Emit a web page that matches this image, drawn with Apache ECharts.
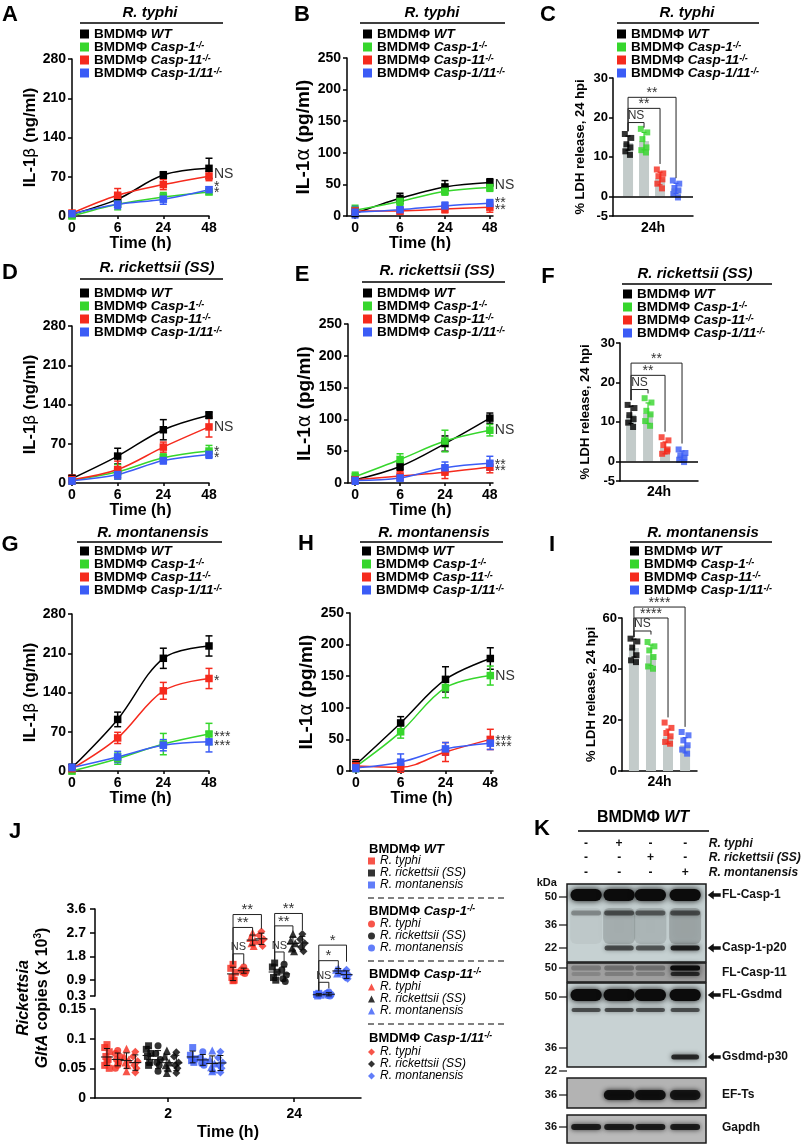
<!DOCTYPE html>
<html><head><meta charset="utf-8">
<script src="https://cdn.jsdelivr.net/npm/echarts@6/dist/echarts.min.js"></script>
<style>html,body{margin:0;padding:0;background:#fff}#chart{width:810px;height:1145px}</style>
</head><body><div id="chart"></div>
<script>
// ---------------- DATA ----------------
const GENOTYPES = ['WT', 'Casp-1', 'Casp-11', 'Casp-1/11'];
const TIME_LABELS = ['0', '6', '24', '48'];

// IL-1β / IL-1α time courses (rows: WT, Casp-1, Casp-11, Casp-1/11; cols: 0,6,24,48 h)
const A_mean = [[3, 30, 73, 85], [0, 21, 34, 43], [5, 37, 56, 71], [4, 21, 30, 47]];
const A_sd = [[3, 5, 6, 18], [4, 10, 8, 5], [5, 12, 9, 8], [4, 8, 9, 5]];
const A_sig = [[75, 'NS'], [52, '*'], [40, '*']];

const B_mean = [[4, 28, 46, 53], [9, 23, 39, 45], [8, 8, 11, 14], [6, 10, 16, 20]];
const B_sd = [[3, 8, 10, 6], [8, 6, 6, 6], [6, 5, 6, 8], [9, 4, 6, 6]];
const B_sig = [[49, 'NS'], [20, '**'], [10, '**']];

const D_mean = [[8, 48, 95, 121], [5, 20, 45, 57], [6, 24, 64, 100], [4, 15, 40, 51]];
const D_sd = [[6, 14, 18, 6], [7, 13, 7, 10], [8, 15, 9, 18], [6, 8, 6, 7]];
const D_sig = [[100, 'NS'], [55, '*'], [44, '*']];

const E_mean = [[5, 26, 62, 102], [10, 37, 66, 83], [5, 11, 17, 25], [4, 8, 24, 31]];
const E_sd = [[5, 6, 12, 8], [7, 9, 17, 9], [6, 7, 10, 9], [6, 5, 9, 11]];
const E_sig = [[83, 'NS'], [28, '**'], [19, '**']];

const G_mean = [[6, 92, 201, 223], [0, 22, 48, 66], [4, 59, 143, 165], [6, 25, 46, 52]];
const G_sd = [[6, 13, 18, 18], [5, 10, 19, 19], [5, 10, 15, 18], [6, 10, 10, 18]];
const G_sig = [[161, '*'], [60, '***'], [45, '***']];

const H_mean = [[10, 76, 145, 178], [7, 62, 132, 151], [8, 6, 30, 50], [5, 14, 35, 44]];
const H_sd = [[8, 10, 20, 17], [8, 10, 16, 15], [8, 8, 15, 16], [6, 13, 10, 10]];
const H_sig = [[150, 'NS'], [47, '***'], [37, '***']];

// LDH release bars (means), SD, and individual points
const C_bars = [13.5, 14, 4.5, 2];
const C_sd = [1.8, 2.2, 1.6, 1.3];
const C_points = [[15.8, 14.8, 13.2, 12.4, 11.4, 10.5], [17.1, 16.2, 14.5, 12.4, 11.7, 11.1],
                  [6.8, 5.8, 5.1, 4.3, 3.2, 2.0], [4.0, 3.2, 2.1, 1.5, 0.6, -0.3]];
const C_brackets = [[0, 3, 25.1, 16.5, 4.6, '**'], [0, 2, 22.3, 16.5, 8.2, '**'], [0, 1, 18.7, 16.5, 17.4, 'NS']];

const F_bars = [11.8, 12.2, 3.4, 1.5];
const F_sd = [2.2, 2.6, 1.5, 1.1];
const F_points = [[14.3, 13.5, 11.7, 10.7, 9.8, 8.7], [16.0, 14.9, 12.8, 11.9, 10.2, 9.0],
                  [6.1, 5.3, 4.1, 3.0, 1.9, 2.5], [3.0, 2.1, 1.5, 0.9, 0.4, -0.2]];
const F_brackets = [[0, 3, 24.9, 15.5, 4.5, '**'], [0, 2, 21.8, 15.5, 7.5, '**'], [0, 1, 18.2, 15.5, 17.2, 'NS']];

const I_bars = [48.2, 45.4, 13.6, 10.1];
const I_sd = [3.5, 4.0, 2.8, 3.0];
const I_points = [[51.9, 50.8, 48.4, 45.4, 43.4, 42.7], [50.6, 48.9, 47.3, 44.7, 41.0, 40.1],
                  [19.0, 16.9, 14.9, 13.6, 11.4, 10.7], [15.3, 14.0, 12.0, 10.1, 8.4, 6.8]];
const I_brackets = [[0, 3, 64.3, 52.5, 17.3, '****'], [0, 2, 60.0, 52.5, 21.0, '****'], [0, 1, 54.9, 52.5, 53.5, 'NS']];

// J: Rickettsia GltA copies (x10^3); [species][genotype] -> values
const J_SPECIES = ['R. typhi', 'R. rickettsii (SS)', 'R. montanensis'];
const J_TIME_LABELS = ['2', '24'];
const J_UPPER_TICKS = [0.3, 0.9, 1.8, 2.7, 3.6];
const J_2h_typhi = [[0.09, 0.085, 0.078, 0.07, 0.065, 0.06, 0.055, 0.05], [0.08, 0.075, 0.07, 0.065, 0.06, 0.055, 0.05],
                    [0.083, 0.07, 0.065, 0.06, 0.055, 0.045], [0.078, 0.07, 0.062, 0.055, 0.05, 0.043]];
const J_2h_rick = [[0.088, 0.082, 0.075, 0.07, 0.06, 0.055], [0.088, 0.075, 0.065, 0.06, 0.055, 0.045],
                   [0.08, 0.07, 0.06, 0.055, 0.05, 0.042], [0.077, 0.07, 0.06, 0.055, 0.05, 0.042]];
const J_2h_mont = [[0.085, 0.072, 0.066, 0.063, 0.06], [0.078, 0.068, 0.062, 0.058, 0.055],
                   [0.08, 0.065, 0.058, 0.052, 0.048, 0.045], [0.078, 0.068, 0.06, 0.055, 0.05, 0.043]];
const J_24h_typhi = [[1.5, 1.35, 1.2, 1.0, 0.9, 0.88], [1.4, 1.3, 1.25, 1.2, 1.15],
                     [2.7, 2.5, 2.4, 2.3, 2.2], [2.75, 2.6, 2.45, 2.35, 2.2]];
const J_24h_rick = [[1.55, 1.4, 1.2, 1.0, 0.9], [1.5, 1.3, 1.1, 0.95, 0.85],
                    [2.65, 2.4, 2.3, 2.1, 2.0], [2.65, 2.45, 2.3, 2.15, 2.0]];
const J_24h_mont = [[0.4, 0.36, 0.33, 0.3], [0.45, 0.4, 0.36, 0.32, 0.3],
                    [1.35, 1.3, 1.2, 1.15], [1.3, 1.2, 1.1, 1.0, 0.95]];
// brackets at 24 h: [species, genotypeFrom, genotypeTo, y, leftLegBottom, rightLegBottom, text]
const J_brackets = [
  [0, 0, 3, 3.39, 1.5, 2.85, '**'], [0, 0, 2, 2.9, 1.5, 2.6, '**'], [0, 0, 1, 1.9, 1.5, 1.5, 'NS'],
  [1, 0, 3, 3.43, 1.55, 2.8, '**'], [1, 0, 2, 2.96, 1.55, 2.7, '**'], [1, 0, 1, 1.97, 1.55, 1.55, 'NS'],
  [2, 0, 3, 2.23, 0.5, 1.6, '*'], [2, 0, 2, 1.64, 0.5, 1.35, '*'], [2, 0, 1, 0.82, 0.5, 0.59, 'NS']];

// K: western blot (lanes: uninfected, R. typhi, R. rickettsii, R. montanensis), band intensity 0..1
const K_INFECTION = [[0, 1, 0, 0], [0, 0, 1, 0], [0, 0, 0, 1]];
const K_FL_CASP1 = [1, 1, 1, 1];
const K_CASP1_MID = [0.3, 0.55, 0.5, 0.55];
const K_CASP1_SMEAR = [0.04, 0.16, 0.13, 0.2];
const K_CASP1_P20 = [0, 0.6, 0.55, 0.85];
const K_CASP11_A = [0.22, 0.28, 0.28, 1];
const K_CASP11_B = [0.15, 0.2, 0.2, 0.75];
const K_FL_GSDMD = [1, 1, 1, 1];
const K_GSDMD_MID = [0.6, 0.62, 0.6, 0.6];
const K_GSDMD_P30 = [0, 0, 0, 0.8];
const K_EFTS = [0, 0.95, 0.95, 0.9];
const K_GAPDH = [0.85, 0.85, 0.85, 0.85];
const K_MW = [50, 36, 22, 50, 50, 36, 22, 36, 36];

// ---------------- STYLE / LAYOUT ----------------
const FONT = '"Liberation Sans", Arial, Helvetica, sans-serif';
const GENO_COLORS = ['#000000', '#36d62c', '#f52a1d', '#3b5cf6'];
const J_SPECIES_COLORS = ['#f5291c', '#000000', '#3a5cf7'];
const J_SYMBOLS = ['rect', 'circle', 'triangle', 'diamond'];
const J_SYMBOL_SIZES = [7, 7, 8, 8];
const J_OFFSETS = [-0.485, -0.40, -0.33, -0.26, -0.155, -0.08, -0.01, 0.065, 0.195, 0.275, 0.35, 0.415];
const J_JITTER = [0, -0.018, 0.018, -0.009, 0.009, 0, -0.018, 0.018];
const BAR_JITTER = [-0.2, 0.2, -0.1, 0.15, -0.17, 0.12];

const option = {animation: false, backgroundColor: '#ffffff', textStyle: {fontFamily: FONT},
  grid: [], xAxis: [], yAxis: [], legend: [], series: [], graphic: []};

function addGrid(g) { option.grid.push(Object.assign({containLabel: false, show: false}, g)); return option.grid.length - 1; }
const AX_LINE = {show: true, onZero: false, lineStyle: {color: '#000', width: 1.5}};
function tick(vals, len) {
  const t = {show: true, inside: false, length: len || 4, lineStyle: {color: '#000', width: 1.5}};
  if (vals) t.customValues = vals;
  return t;
}
function lbl(extra) { return Object.assign({show: true, color: '#000', fontFamily: FONT, fontWeight: 'bold', fontSize: 14}, extra); }

const LEG_RICH = {
  b: {fontFamily: FONT, fontWeight: 'bold', fontSize: 13.5, color: '#000', lineHeight: 11.5},
  bi: {fontFamily: FONT, fontWeight: 'bold', fontStyle: 'italic', fontSize: 13.5, color: '#000', lineHeight: 11.5},
  sup: {fontFamily: FONT, fontWeight: 'bold', fontStyle: 'italic', fontSize: 9, color: '#000', lineHeight: 5, verticalAlign: 'top'}
};
function genoLabel(n) { return n === 'WT' ? '{b|BMDMΦ }{bi|WT}' : '{b|BMDMΦ }{bi|' + n + '}{sup|-/-}'; }
function addGenoLegend(left, top) {
  option.legend.push({left: left, top: top, orient: 'vertical', itemWidth: 9, itemHeight: 9, itemGap: -1, padding: 0,
    icon: 'rect', selectedMode: false, data: GENOTYPES, formatter: genoLabel, textStyle: {rich: LEG_RICH}});
}

function errorBarSeries(xi, yi, rows, color, capHalf, width, z) {
  return {type: 'custom', xAxisIndex: xi, yAxisIndex: yi, silent: true, clip: false, z: z || 2,
    itemStyle: {color: color}, data: rows,
    renderItem: function (params, api) {
      const x = api.value(0), m = api.value(1), s = api.value(2);
      const hi = api.coord([x, m + s]), lo = api.coord([x, m - s]);
      const st = {stroke: color, lineWidth: width};
      return {type: 'group', children: [
        {type: 'line', shape: {x1: hi[0], y1: hi[1], x2: lo[0], y2: lo[1]}, style: st},
        {type: 'line', shape: {x1: hi[0] - capHalf, y1: hi[1], x2: hi[0] + capHalf, y2: hi[1]}, style: st},
        {type: 'line', shape: {x1: lo[0] - capHalf, y1: lo[1], x2: lo[0] + capHalf, y2: lo[1]}, style: st}]};
    }};
}
function textSeries(xi, yi, items, z) {
  return {type: 'custom', xAxisIndex: xi, yAxisIndex: yi, silent: true, clip: false, z: z || 10,
    data: items.map(it => [it.x, it.y]),
    renderItem: function (params, api) {
      const it = items[params.dataIndex];
      const pt = api.coord([api.value(0), api.value(1)]);
      return {type: 'text', x: pt[0] + (it.dx || 0), y: pt[1] + (it.dy || 0),
        style: {text: it.text, fill: it.fill || '#333', font: it.font, align: it.align || 'left', verticalAlign: it.vAlign || 'middle'}};
    }};
}
function bracketSeries(xi, yi, rows, texts, starFont, nsFont) {
  return {type: 'custom', xAxisIndex: xi, yAxisIndex: yi, silent: true, clip: false, z: 8, data: rows,
    renderItem: function (params, api) {
      const x1 = api.value(0), x2 = api.value(1), y = api.value(2), yl = api.value(3), yr = api.value(4);
      const p1 = api.coord([x1, yl]), p2 = api.coord([x1, y]), p3 = api.coord([x2, y]), p4 = api.coord([x2, yr]);
      const t = texts[params.dataIndex], ns = t === 'NS';
      return {type: 'group', children: [
        {type: 'polyline', shape: {points: [p1, p2, p3, p4]}, style: {stroke: '#222', lineWidth: 1, fill: null}},
        {type: 'text', x: (p2[0] + p3[0]) / 2, y: p2[1] + (ns ? -1 : 3),
          style: {text: t, fill: '#333', font: ns ? nsFont : starFont, align: 'center', verticalAlign: 'bottom'}}]};
    }};
}

function yNameRich(size) {
  return {b: {fontFamily: FONT, fontWeight: 'bold', fontSize: size, color: '#000'},
          g: {fontFamily: '"DejaVu Sans", sans-serif', fontWeight: 'normal', fontSize: size, color: '#000'}};
}

function buildLinePanel(p) {
  const g = addGrid(p.grid);
  const xi = option.xAxis.push({gridIndex: g, type: 'value', min: p.xMin, max: p.xMax,
    axisLine: AX_LINE, axisTick: tick([0, 1, 2, 3], 3), splitLine: {show: false},
    axisLabel: lbl({customValues: [0, 1, 2, 3], margin: 5, formatter: v => TIME_LABELS[Math.round(v)]}),
    name: 'Time (h)', nameLocation: 'middle', nameGap: 20,
    nameTextStyle: {color: '#000', fontFamily: FONT, fontWeight: 'bold', fontSize: 16}}) - 1;
  const yi = option.yAxis.push({gridIndex: g, type: 'value', min: 0, max: p.yMax, interval: p.yInt,
    axisLine: AX_LINE, axisTick: tick(), splitLine: {show: false}, axisLabel: lbl({margin: 6}),
    name: p.yName, nameLocation: 'middle', nameRotate: 90, nameGap: p.yGap,
    nameTextStyle: {rich: yNameRich(p.yNameSize)}}) - 1;
  for (let k = 0; k < 4; k++) {
    option.series.push(errorBarSeries(xi, yi, p.mean[k].map((v, i) => [i, v, p.sd[k][i]]), GENO_COLORS[k], 3.5, 1.5, 2));
  }
  for (let k = 0; k < 4; k++) {
    option.series.push({type: 'line', name: GENOTYPES[k], xAxisIndex: xi, yAxisIndex: yi, clip: false, z: 3,
      data: p.mean[k].map((v, i) => [i, v]), smooth: 0.35, symbol: 'rect', symbolSize: 7.5, showAllSymbol: true,
      itemStyle: {color: GENO_COLORS[k]}, lineStyle: {color: GENO_COLORS[k], width: 1.5}});
  }
  option.series.push(textSeries(xi, yi, p.sig.map(s => ({x: 3, y: s[0], text: s[1], dx: 5,
    font: '14px ' + FONT, fill: '#333'}))));
  addGenoLegend(p.legend[0], p.legend[1]);
}

function buildBarPanel(p) {
  const g = addGrid(p.grid);
  const xi = option.xAxis.push({gridIndex: g, type: 'value', min: p.xMin, max: p.xMax,
    axisLine: AX_LINE, axisTick: {show: false}, axisLabel: {show: false}, splitLine: {show: false},
    name: '24h', nameLocation: 'middle', nameGap: p.xGap,
    nameTextStyle: {color: '#000', fontFamily: FONT, fontWeight: 'bold', fontSize: 14}}) - 1;
  const yi = option.yAxis.push({gridIndex: g, type: 'value', min: p.yMin, max: p.yMax,
    axisLine: AX_LINE, axisTick: tick(p.yTicks), splitLine: {show: false},
    axisLabel: lbl({customValues: p.yTicks, margin: 5, fontSize: 13}),
    name: '% LDH release, 24 hpi', nameLocation: 'middle', nameRotate: 90, nameGap: p.yGap,
    nameTextStyle: {color: '#000', fontFamily: FONT, fontWeight: 'bold', fontSize: 13}}) - 1;
  const bar = {type: 'bar', xAxisIndex: xi, yAxisIndex: yi, barWidth: 10, z: 1,
    data: p.bars.map((v, i) => [i, v]), itemStyle: {color: '#c3cbca'}};
  if (p.yMin < 0) {
    bar.markLine = {silent: true, symbol: ['none', 'none'], label: {show: false},
      lineStyle: {color: '#000', width: 1.5, type: 'solid'}, data: [{yAxis: 0}]};
  }
  option.series.push(bar);
  for (let k = 0; k < 4; k++) {
    option.series.push({type: 'scatter', name: GENOTYPES[k], xAxisIndex: xi, yAxisIndex: yi, z: 3,
      symbol: 'rect', symbolSize: 6, itemStyle: {color: GENO_COLORS[k]},
      data: p.points[k].map((v, j) => [k + BAR_JITTER[j % BAR_JITTER.length], v])});
  }
  for (let k = 0; k < 4; k++) {
    option.series.push(errorBarSeries(xi, yi, [[k, p.bars[k], p.sd[k]]], GENO_COLORS[k], 2.5, 1.2, 4));
  }
  option.series.push(bracketSeries(xi, yi, p.brackets.map(b => b.slice(0, 5)), p.brackets.map(b => b[5]),
    '14px ' + FONT, '12px ' + FONT));
  addGenoLegend(p.legend[0], p.legend[1]);
}

// ---- panel layouts ----
buildLinePanel({grid: {left: 72, top: 59, width: 137, height: 157}, xMin: 0, xMax: 3,
  yMax: 280, yInt: 70, yName: '{b|IL-1}{g|β}{b| (ng/ml)}', yNameSize: 16.5, yGap: 27,
  mean: A_mean, sd: A_sd, sig: A_sig, legend: [80, 27]});
buildLinePanel({grid: {left: 347, top: 58, width: 146, height: 158}, xMin: -0.18, xMax: 3.07,
  yMax: 250, yInt: 50, yName: '{b|IL-1}{g|α}{b| (pg/ml)}', yNameSize: 19, yGap: 27,
  mean: B_mean, sd: B_sd, sig: B_sig, legend: [363, 27]});
buildBarPanel({grid: {left: 613, top: 78, width: 80, height: 138}, xMin: -0.94, xMax: 4.06, xGap: 5,
  yMin: -5, yMax: 30, yTicks: [-5, 0, 10, 20, 30], yGap: 26,
  bars: C_bars, sd: C_sd, points: C_points, brackets: C_brackets, legend: [617, 27]});

buildLinePanel({grid: {left: 72, top: 326, width: 137, height: 157}, xMin: 0, xMax: 3,
  yMax: 280, yInt: 70, yName: '{b|IL-1}{g|β}{b| (ng/ml)}', yNameSize: 16.5, yGap: 28,
  mean: D_mean, sd: D_sd, sig: D_sig, legend: [80, 286]});
buildLinePanel({grid: {left: 348, top: 324, width: 145, height: 159}, xMin: -0.16, xMax: 3.07,
  yMax: 250, yInt: 50, yName: '{b|IL-1}{g|α}{b| (pg/ml)}', yNameSize: 19, yGap: 28,
  mean: E_mean, sd: E_sd, sig: E_sig, legend: [363, 286]});
buildBarPanel({grid: {left: 620, top: 343, width: 78, height: 138}, xMin: -0.65, xMax: 3.94, xGap: 4,
  yMin: -5, yMax: 30, yTicks: [-5, 0, 10, 20, 30], yGap: 28,
  bars: F_bars, sd: F_sd, points: F_points, brackets: F_brackets, legend: [623, 287]});

buildLinePanel({grid: {left: 72, top: 614, width: 137, height: 157}, xMin: 0, xMax: 3,
  yMax: 280, yInt: 70, yName: '{b|IL-1}{g|β}{b| (ng/ml)}', yNameSize: 16.5, yGap: 28,
  mean: G_mean, sd: G_sd, sig: G_sig, legend: [80, 544]});
buildLinePanel({grid: {left: 350, top: 613, width: 143, height: 158}, xMin: -0.13, xMax: 3.06,
  yMax: 250, yInt: 50, yName: '{b|IL-1}{g|α}{b| (pg/ml)}', yNameSize: 19, yGap: 30,
  mean: H_mean, sd: H_sd, sig: H_sig, legend: [362, 544]});
buildBarPanel({grid: {left: 622, top: 618, width: 75, height: 153}, xMin: -0.7, xMax: 3.7, xGap: 4,
  yMin: 0, yMax: 60, yTicks: [0, 20, 40, 60], yGap: 24,
  bars: I_bars, sd: I_sd, points: I_points, brackets: I_brackets, legend: [630, 544]});

// ---- panel J (broken y axis: two grids) ----
(function () {
  const gUp = addGrid({left: 95, top: 909, width: 266, height: 87});
  const gLo = addGrid({left: 95, top: 1009, width: 266, height: 89});
  const xUp = option.xAxis.push({gridIndex: gUp, type: 'value', min: -0.58, max: 1.53, show: false, splitLine: {show: false}}) - 1;
  const xLo = option.xAxis.push({gridIndex: gLo, type: 'value', min: -0.58, max: 1.53,
    axisLine: AX_LINE, axisTick: tick([0, 1], 4), splitLine: {show: false},
    axisLabel: lbl({customValues: [0, 1], margin: 9, formatter: v => J_TIME_LABELS[Math.round(v)]}),
    name: 'Time (h)', nameLocation: 'middle', nameGap: 27,
    nameTextStyle: {color: '#000', fontFamily: FONT, fontWeight: 'bold', fontSize: 16}}) - 1;
  const yUp = option.yAxis.push({gridIndex: gUp, type: 'value', min: 0.3, max: 3.6,
    axisLine: AX_LINE, axisTick: tick(J_UPPER_TICKS, 5), splitLine: {show: false},
    axisLabel: lbl({customValues: J_UPPER_TICKS, margin: 9, formatter: v => String(v)})}) - 1;
  const yLo = option.yAxis.push({gridIndex: gLo, type: 'value', min: 0, max: 0.15, interval: 0.05,
    axisLine: AX_LINE, axisTick: tick(null, 5), splitLine: {show: false}, axisLabel: lbl({margin: 9})}) - 1;

  const d2 = [J_2h_typhi, J_2h_rick, J_2h_mont], d24 = [J_24h_typhi, J_24h_rick, J_24h_mont];
  const meanSd = vals => {
    const m = vals.reduce((a, b) => a + b, 0) / vals.length;
    const sd = Math.sqrt(vals.reduce((a, b) => a + (b - m) * (b - m), 0) / (vals.length - 1));
    return [m, sd];
  };
  const msRender = function (params, api) {
    const x = api.value(0), m = api.value(1), s = api.value(2);
    const c = api.coord([x, m]), hi = api.coord([x, m + s]), lo = api.coord([x, m - s]);
    const st = {stroke: '#111', lineWidth: 1};
    return {type: 'group', children: [
      {type: 'line', shape: {x1: c[0] - 6, y1: c[1], x2: c[0] + 6, y2: c[1]}, style: st},
      {type: 'line', shape: {x1: hi[0], y1: hi[1], x2: lo[0], y2: lo[1]}, style: st},
      {type: 'line', shape: {x1: hi[0] - 3, y1: hi[1], x2: hi[0] + 3, y2: hi[1]}, style: st},
      {type: 'line', shape: {x1: lo[0] - 3, y1: lo[1], x2: lo[0] + 3, y2: lo[1]}, style: st}]};
  };
  const msUp = [], msLo = [];
  for (let s = 0; s < 3; s++) {
    for (let g = 0; g < 4; g++) {
      const off = J_OFFSETS[s * 4 + g];
      const name = 'J|' + g + '|' + s;
      const common = {type: 'scatter', name: name, symbol: J_SYMBOLS[g], symbolSize: J_SYMBOL_SIZES[g],
        itemStyle: {color: J_SPECIES_COLORS[s]}, z: 3, clip: false};
      option.series.push(Object.assign({}, common, {xAxisIndex: xLo, yAxisIndex: yLo,
        data: d2[s][g].map((v, i) => [off + J_JITTER[i % J_JITTER.length], v])}));
      option.series.push(Object.assign({}, common, {xAxisIndex: xUp, yAxisIndex: yUp,
        data: d24[s][g].map((v, i) => [1 + off + J_JITTER[i % J_JITTER.length], v])}));
      const a = meanSd(d2[s][g]), b = meanSd(d24[s][g]);
      msLo.push([off, a[0], a[1]]);
      msUp.push([1 + off, b[0], b[1]]);
    }
  }
  option.series.push({type: 'custom', xAxisIndex: xLo, yAxisIndex: yLo, silent: true, clip: false, z: 5, data: msLo, renderItem: msRender});
  option.series.push({type: 'custom', xAxisIndex: xUp, yAxisIndex: yUp, silent: true, clip: false, z: 5, data: msUp, renderItem: msRender});
  option.series.push(bracketSeries(xUp, yUp,
    J_brackets.map(b => [1 + J_OFFSETS[b[0] * 4 + b[1]], 1 + J_OFFSETS[b[0] * 4 + b[2]], b[3], b[4], b[5]]),
    J_brackets.map(b => b[6]), '15px ' + FONT, '11px ' + FONT));

  // legend (4 groups)
  const tops = [855, 918, 981, 1046];
  const icons = ['rect', 'circle', 'triangle', 'diamond'];
  for (let g = 0; g < 4; g++) {
    option.legend.push({left: 368, top: tops[g], orient: 'vertical', itemWidth: 7, itemHeight: 7, itemGap: 0, padding: 0,
      selectedMode: false, data: [0, 1, 2].map(s => ({name: 'J|' + g + '|' + s, icon: icons[g]})),
      formatter: n => '{i|' + J_SPECIES[+n.split('|')[2]] + '}',
      textStyle: {rich: {i: {fontFamily: FONT, fontStyle: 'italic', fontSize: 12, color: '#000', lineHeight: 14}}}});
  }
})();

// ---- panel K (western blot) ----
(function () {
  const gK = addGrid({left: 567, top: 884, width: 139, height: 259});
  const kx = option.xAxis.push({gridIndex: gK, type: 'value', min: 0, max: 4, show: false, splitLine: {show: false}}) - 1;
  const ky = option.yAxis.push({gridIndex: gK, type: 'value', min: 0, max: 259, inverse: true, show: false, splitLine: {show: false}}) - 1;
  const LANE_X = [0.55, 1.5, 2.4, 3.4];
  const STRIPS = [[0, 78, '#c6d1d2'], [79, 98, '#9f9f9f'], [99, 183, '#c8d2d3'], [194, 224, '#b3b3b3'], [231, 259, '#bababa']];
  const BANDS = [[42, 36, K_CASP1_SMEAR, 0.46], [11, 12, K_FL_CASP1, 0.45], [29, 5, K_CASP1_MID, 0.43], [64, 5, K_CASP1_P20, 0.42],
                 [84, 5, K_CASP11_A, 0.43], [90, 4, K_CASP11_B, 0.42], [111, 12, K_FL_GSDMD, 0.45], [126, 4, K_GSDMD_MID, 0.42],
                 [173, 5, K_GSDMD_P30, 0.4], [211, 10, K_EFTS, 0.44], [243, 6, K_GAPDH, 0.43]];
  const MW_Y = [13, 41, 64, 84, 113, 164, 187, 211, 243];
  option.series.push({type: 'custom', xAxisIndex: kx, yAxisIndex: ky, silent: true, clip: false, z: 1,
    data: STRIPS.map(s => [0, s[0], 4, s[1]]),
    renderItem: function (params, api) {
      const a = api.coord([api.value(0), api.value(1)]), b = api.coord([api.value(2), api.value(3)]);
      return {type: 'rect', shape: {x: a[0], y: a[1], width: b[0] - a[0], height: b[1] - a[1]},
        style: {fill: STRIPS[params.dataIndex][2], stroke: '#1a1a1a', lineWidth: 1.5}};
    }});
  const bandRows = [];
  BANDS.forEach(b => b[2].forEach((v, lane) => { if (v > 0) bandRows.push([LANE_X[lane], b[0], b[1], v, b[3]]); }));
  option.series.push({type: 'custom', xAxisIndex: kx, yAxisIndex: ky, silent: true, clip: false, z: 2, data: bandRows,
    renderItem: function (params, api) {
      const x = api.value(0), y = api.value(1), h = api.value(2), v = api.value(3), hw = api.value(4);
      const a = api.coord([x - hw, y - h / 2]), b = api.coord([x + hw, y + h / 2]);
      const col = 'rgba(12,12,12,' + v.toFixed(2) + ')';
      return {type: 'rect', shape: {x: a[0], y: a[1], width: b[0] - a[0], height: b[1] - a[1], r: Math.min(6, (b[1] - a[1]) / 2)},
        style: {fill: col, shadowBlur: h > 20 ? 10 : 2 + 4 * v, shadowColor: col}};
    }});
  // MW markers
  option.series.push({type: 'custom', xAxisIndex: kx, yAxisIndex: ky, silent: true, clip: false, z: 3,
    data: MW_Y.map(y => [0, y]),
    renderItem: function (params, api) {
      const p = api.coord([api.value(0), api.value(1)]);
      return {type: 'group', children: [
        {type: 'line', shape: {x1: p[0] - 8, y1: p[1], x2: p[0], y2: p[1]}, style: {stroke: '#111', lineWidth: 1.2}},
        {type: 'text', x: p[0] - 10, y: p[1], style: {text: String(K_MW[params.dataIndex]), fill: '#111',
          font: 'bold 11px ' + FONT, align: 'right', verticalAlign: 'middle'}}]};
    }});
  // arrows pointing at bands
  const ARROW_Y = [11, 64, 111, 173];
  option.series.push({type: 'custom', xAxisIndex: kx, yAxisIndex: ky, silent: true, clip: false, z: 3,
    data: ARROW_Y.map(y => [4.05, y]),
    renderItem: function (params, api) {
      const p = api.coord([api.value(0), api.value(1)]);
      const x = p[0], y = p[1];
      return {type: 'polygon', shape: {points: [[x, y], [x + 6, y - 4.5], [x + 6, y - 1.8], [x + 13, y - 1.8],
        [x + 13, y + 1.8], [x + 6, y + 1.8], [x + 6, y + 4.5]]}, style: {fill: '#111'}};
    }});
  // texts: infection matrix, row labels, band labels
  const items = [];
  K_INFECTION.forEach((row, r) => {
    const y = [-40, -26, -11][r];
    row.forEach((v, lane) => items.push({x: LANE_X[lane], y: y, text: v ? '+' : '-', align: 'center', font: 'bold 12px ' + FONT, fill: '#111'}));
    items.push({x: 4.08, y: y, text: J_SPECIES[r], align: 'left', font: 'italic bold 12px ' + FONT, fill: '#111'});
  });
  items.push({x: -0.29, y: -1, text: 'kDa', align: 'right', font: 'bold 11px ' + FONT, fill: '#111'});
  [['FL-Casp-1', 11], ['Casp-1-p20', 64], ['FL-Casp-11', 89], ['FL-Gsdmd', 111],
   ['Gsdmd-p30', 173], ['EF-Ts', 211], ['Gapdh', 244]].forEach(l =>
    items.push({x: 4.46, y: l[1], text: l[0], align: 'left', font: 'bold 12px ' + FONT, fill: '#111'}));
  option.series.push(textSeries(kx, ky, items, 6));
})();

// ---- static text: panel letters, titles, underlines, J legend headers ----
const G = option.graphic;
function gText(x, y, text, font, align, rich) {
  G.push({type: 'text', x: x, y: y, silent: true,
    style: {text: text, font: font, fill: '#000', align: align || 'center', verticalAlign: 'middle', rich: rich}});
}
function gLine(x1, x2, y, dash) {
  G.push({type: 'line', silent: true, shape: {x1: x1, y1: y, x2: x2, y2: y},
    style: {stroke: '#000', lineWidth: dash ? 1 : 1.5, lineDash: dash ? [6, 4] : null}});
}
[['A', 10, 15], ['B', 302, 15], ['C', 548, 15], ['D', 10, 273], ['E', 302, 275], ['F', 548, 277],
 ['G', 10, 545], ['H', 306, 544], ['I', 552, 545], ['J', 15, 832], ['K', 542, 829]].forEach(l =>
  gText(l[1], l[2], l[0], 'bold 22px ' + FONT));
[['R. typhi', 150, 13, 80, 223, 23], ['R. typhi', 432, 13, 360, 505, 23], ['R. typhi', 687, 13, 617, 759, 23],
 ['R. rickettsii (SS)', 157, 268, 80, 223, 279], ['R. rickettsii (SS)', 437, 271, 362, 505, 282],
 ['R. rickettsii (SS)', 695, 274, 622, 772, 284],
 ['R. montanensis', 153, 533, 77, 222, 542], ['R. montanensis', 434, 533, 360, 503, 542],
 ['R. montanensis', 703, 533, 630, 772, 542]].forEach(t => {
  gText(t[1], t[2], t[0], 'italic bold 15px ' + FONT);
  gLine(t[3], t[4], t[5]);
});
// J legend headers & separators
const HDR_RICH = {b: {font: 'bold 13px ' + FONT, fill: '#000'}, bi: {font: 'italic bold 13px ' + FONT, fill: '#000'},
  sup: {font: 'italic bold 8.5px ' + FONT, fill: '#000', verticalAlign: 'top', lineHeight: 6}};
[[849, 'WT'], [911, 'Casp-1'], [974, 'Casp-11'], [1038, 'Casp-1/11']].forEach(h =>
  gText(369, h[0], genoLabel(h[1]), 'bold 13px ' + FONT, 'left', HDR_RICH));
[898, 961, 1024].forEach(y => gLine(368, 505, y, true));
// J y-axis name (rotated, two lines)
G.push({type: 'text', x: 33, y: 998, rotation: Math.PI / 2, silent: true,
  style: {text: '{i|Rickettsia}\n{i|GltA}{b| copies (x 10}{s|3}{b|)}', align: 'center', verticalAlign: 'middle',
    rich: {i: {font: 'italic bold 16px ' + FONT, fill: '#000', lineHeight: 19},
           b: {font: 'bold 16px ' + FONT, fill: '#000', lineHeight: 19},
           s: {font: 'bold 10px ' + FONT, fill: '#000', lineHeight: 8, verticalAlign: 'top'}}}});
// K header
gText(643, 818, '{b|BMDMΦ }{bi|WT}', 'bold 16px ' + FONT, 'center',
  {b: {font: 'bold 16px ' + FONT, fill: '#000'}, bi: {font: 'italic bold 16px ' + FONT, fill: '#000'}});
gLine(578, 709, 831);

const chart = echarts.init(document.getElementById('chart'), null, {renderer: 'canvas', width: 810, height: 1145});
chart.setOption(option);
</script>
</body></html>
